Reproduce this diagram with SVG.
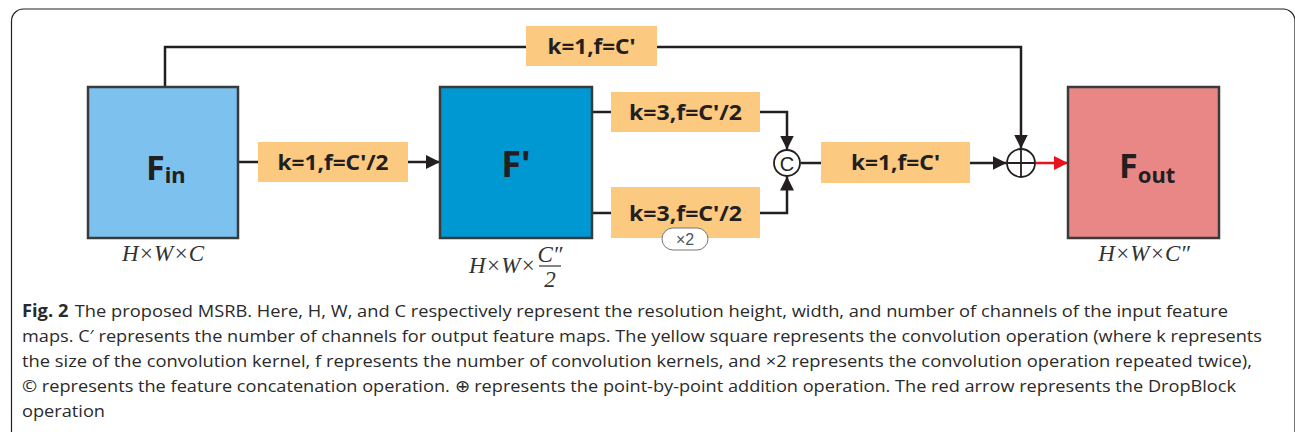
<svg xmlns="http://www.w3.org/2000/svg" width="1295" height="432" viewBox="0 0 1295 432">
<style>
.ln{fill:none;stroke:#231F20;stroke-width:2.5}
.red{fill:none;stroke:#E8141B;stroke-width:2.5}
.fm{stroke:#3A3A3A;stroke-width:2.5}
.conv{fill:#FBC97F}
.ct{font-family:"Noto Sans","Open Sans",sans-serif;font-weight:bold;font-size:22px;fill:#231F20;text-anchor:middle}
.big{font-family:"Noto Sans","Open Sans",sans-serif;font-weight:bold;fill:#231F20}
.dim{font-family:"Liberation Serif",serif;font-style:italic;font-size:23px;fill:#333}
.cap{font-family:"Open Sans","Noto Sans",sans-serif;font-size:17px;fill:#2A2A2A}
</style>
<defs>
<marker id="ab" markerUnits="userSpaceOnUse" markerWidth="16" markerHeight="14" refX="14" refY="7" orient="auto"><path d="M0,0 L14,7 L0,14 Z" fill="#231F20"/></marker>
<marker id="ar" markerUnits="userSpaceOnUse" markerWidth="16" markerHeight="14" refX="14" refY="7" orient="auto"><path d="M0,0 L14,7 L0,14 Z" fill="#E8141B"/></marker>
</defs>
<path d="M11.5,432 V21 A12,12 0 0 1 23.5,9 H1283 A12,12 0 0 1 1295,21 V432" fill="none" stroke="#231F20" stroke-width="1.2"/>

<g id="connectors">
<polyline class="ln" points="165,87 165,47 526,47"/>
<polyline class="ln" points="657,47 1021,47 1021,148.5" marker-end="url(#ab)"/>
<line class="ln" x1="238" y1="162" x2="258" y2="162"/>
<line class="ln" x1="408" y1="162" x2="440" y2="162" marker-end="url(#ab)"/>
<line class="ln" x1="592" y1="112" x2="611" y2="112"/>
<line class="ln" x1="592" y1="213" x2="611" y2="213"/>
<polyline class="ln" points="760,112 787,112 787,149.5" marker-end="url(#ab)"/>
<polyline class="ln" points="760,213 787,213 787,176.5" marker-end="url(#ab)"/>
<line class="ln" x1="800.5" y1="163" x2="821" y2="163"/>
<line class="ln" x1="970" y1="163" x2="1006.5" y2="163" marker-end="url(#ab)"/>
<line class="red" x1="1035.5" y1="163" x2="1068" y2="163" marker-end="url(#ar)"/>
</g>

<g id="Fin">
<rect class="fm" x="88" y="87" width="150" height="151" fill="#7DC1EF"/>
<text class="big" x="146" y="180"><tspan font-size="34">F</tspan><tspan font-size="22" dy="3">in</tspan></text>
<text class="dim" x="163" y="261" text-anchor="middle">H×W×C</text>
</g>

<g id="conv1">
<rect class="conv" x="258" y="142" width="150" height="40"/>
<text class="ct" x="333" y="170" textLength="111" lengthAdjust="spacingAndGlyphs">k=1,f=C'/2</text>
</g>

<g id="Fprime">
<rect class="fm" x="440" y="87" width="152" height="151" fill="#0098D3"/>
<text class="big" x="516" y="177" font-size="36" text-anchor="middle">F'</text>
<text class="dim" x="469" y="273">H×W×</text>
<text class="dim" x="550" y="262" text-anchor="middle">C″</text>
<line x1="539" y1="266" x2="561" y2="266" stroke="#333" stroke-width="1.2"/>
<text class="dim" x="550" y="287" text-anchor="middle" font-style="normal">2</text>
</g>

<g id="conv_top">
<rect class="conv" x="611" y="92" width="149" height="40"/>
<text class="ct" x="685.5" y="120" textLength="113" lengthAdjust="spacingAndGlyphs">k=3,f=C'/2</text>
</g>

<g id="conv_bottom">
<rect class="conv" x="611" y="187" width="149" height="51"/>
<text class="ct" x="685.5" y="221" textLength="113" lengthAdjust="spacingAndGlyphs">k=3,f=C'/2</text>
<rect x="662" y="228" width="46" height="22" rx="11" fill="#fff" stroke="#777" stroke-width="1"/>
<text x="685" y="245" text-anchor="middle" font-family="'Liberation Sans',sans-serif" font-size="16" fill="#555">×2</text>
</g>

<g id="concat">
<circle cx="787" cy="163" r="13" fill="#fff" stroke="#231F20" stroke-width="1.8"/>
<text x="787" y="170.5" text-anchor="middle" font-family="'Liberation Sans',sans-serif" font-size="20" fill="#231F20">C</text>
</g>

<g id="conv_out">
<rect class="conv" x="821" y="142" width="149" height="41"/>
<text class="ct" x="895.5" y="170" textLength="89" lengthAdjust="spacingAndGlyphs">k=1,f=C'</text>
</g>

<g id="conv_skip">
<rect class="conv" x="526" y="26" width="131" height="40"/>
<text class="ct" x="591.5" y="54" textLength="88" lengthAdjust="spacingAndGlyphs">k=1,f=C'</text>
</g>

<g id="add">
<circle cx="1021" cy="163" r="14" fill="#fff" stroke="#231F20" stroke-width="1.8"/>
<path d="M1007,163 H1035 M1021,149 V177" stroke="#231F20" stroke-width="1.8"/>
</g>

<g id="Fout">
<rect class="fm" x="1068" y="87" width="151" height="151" fill="#E98787"/>
<text class="big" x="1119" y="178"><tspan font-size="34">F</tspan><tspan font-size="22" dy="5">out</tspan></text>
<text class="dim" x="1144" y="261" text-anchor="middle">H×W×C″</text>
</g>

<g id="caption">
<text class="cap" x="22" y="317" textLength="1206" lengthAdjust="spacingAndGlyphs"><tspan font-weight="bold">Fig. 2</tspan><tspan dx="6">The proposed MSRB. Here, H, W, and C respectively represent the resolution height, width, and number of channels of the input feature</tspan></text>
<text class="cap" x="22" y="342" textLength="1240" lengthAdjust="spacingAndGlyphs">maps. C′ represents the number of channels for output feature maps. The yellow square represents the convolution operation (where k represents</text>
<text class="cap" x="22" y="367" textLength="1230" lengthAdjust="spacingAndGlyphs">the size of the convolution kernel, f represents the number of convolution kernels, and ×2 represents the convolution operation repeated twice),</text>
<text class="cap" x="22" y="392" textLength="1214" lengthAdjust="spacingAndGlyphs">© represents the feature concatenation operation. ⊕ represents the point-by-point addition operation. The red arrow represents the DropBlock</text>
<text class="cap" x="22" y="417" textLength="83" lengthAdjust="spacingAndGlyphs">operation</text>
</g>
</svg>
